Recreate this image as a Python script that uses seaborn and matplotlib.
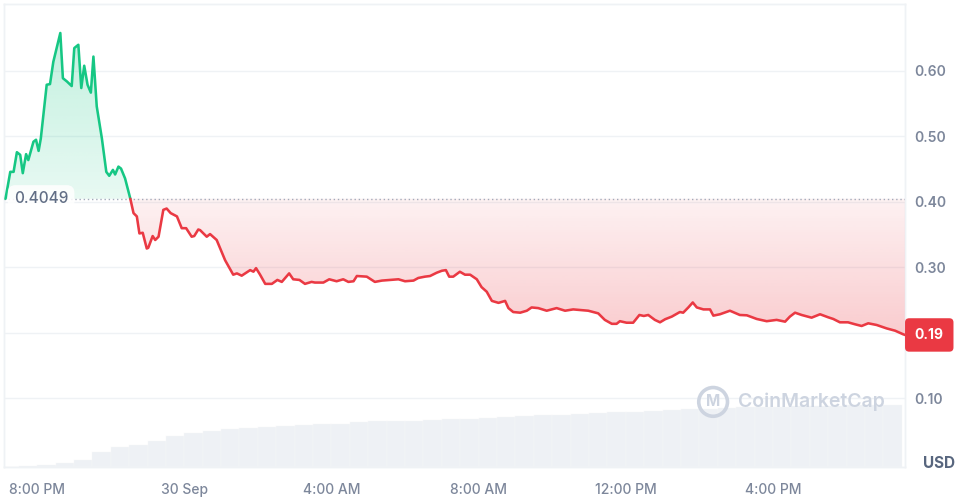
import numpy as np
import matplotlib
matplotlib.use("Agg")
import matplotlib.pyplot as plt
import matplotlib.colors as mcolors
import matplotlib.transforms as mtransforms
from matplotlib.path import Path
from matplotlib.patches import PathPatch
import seaborn as sns

# === Data ===
# hours relative to 8:00 PM on 29 Sep
hours = [
    -0.86, -0.73, -0.64, -0.55, -0.46, -0.39, -0.30, -0.24, -0.10, -0.03,
    0.04, 0.10, 0.26, 0.35, 0.44, 0.63, 0.70, 0.81, 0.94, 1.01,
    1.12, 1.20, 1.28, 1.37, 1.46, 1.53, 1.62, 1.76, 1.88, 1.96,
    2.06, 2.12, 2.21, 2.28, 2.39, 2.53, 2.62, 2.71, 2.78, 2.87,
    2.98, 3.02, 3.14, 3.21, 3.30, 3.43, 3.52, 3.63, 3.80, 3.93,
    4.05, 4.20, 4.27, 4.38, 4.43, 4.61, 4.70, 4.88, 5.11, 5.33,
    5.43, 5.56, 5.79, 5.88, 5.95, 6.06, 6.20, 6.38, 6.53, 6.65,
    6.85, 6.96, 7.13, 7.28, 7.46, 7.55, 7.78, 7.94, 8.14, 8.32,
    8.46, 8.60, 8.69, 8.96, 9.18, 9.37, 9.59, 9.82, 10.00, 10.23,
    10.36, 10.54, 10.68, 10.86, 11.00, 11.11, 11.20, 11.31, 11.49, 11.63,
    11.77, 11.95, 12.08, 12.22, 12.36, 12.54, 12.72, 12.81, 12.94, 13.13,
    13.31, 13.44, 13.62, 13.85, 14.12, 14.35, 14.57, 14.98, 15.25, 15.43,
    15.62, 15.75, 15.84, 16.02, 16.20, 16.37, 16.49, 16.61, 16.79, 16.93,
    17.07, 17.25, 17.47, 17.56, 17.70, 17.82, 17.93, 18.11, 18.29, 18.38,
    18.56, 18.83, 19.10, 19.29, 19.56, 19.83, 20.10, 20.33, 20.46, 20.60,
    20.78, 21.05, 21.28, 21.50, 21.64, 21.82, 22.04, 22.23, 22.41, 22.59,
    22.82, 23.09, 23.32, 23.54, 23.59,
]
price = [
    0.4049, 0.446, 0.446, 0.476, 0.472, 0.444, 0.473, 0.464, 0.492, 0.495,
    0.478, 0.497, 0.579, 0.580, 0.614, 0.658, 0.589, 0.584, 0.577, 0.635,
    0.640, 0.574, 0.608, 0.579, 0.567, 0.622, 0.546, 0.497, 0.446, 0.440,
    0.449, 0.442, 0.454, 0.451, 0.436, 0.4057, 0.383, 0.378, 0.352, 0.353,
    0.329, 0.330, 0.348, 0.342, 0.347, 0.388, 0.390, 0.383, 0.378, 0.360,
    0.360, 0.347, 0.348, 0.358, 0.357, 0.347, 0.351, 0.342, 0.311, 0.289,
    0.291, 0.2875, 0.296, 0.2936, 0.299, 0.289, 0.275, 0.275, 0.281, 0.278,
    0.291, 0.282, 0.281, 0.275, 0.278, 0.277, 0.277, 0.282, 0.279, 0.282,
    0.278, 0.279, 0.287, 0.286, 0.278, 0.280, 0.281, 0.282, 0.279, 0.280,
    0.284, 0.286, 0.287, 0.292, 0.295, 0.296, 0.286, 0.286, 0.2935, 0.289,
    0.289, 0.282, 0.270, 0.263, 0.249, 0.246, 0.249, 0.238, 0.232, 0.231,
    0.234, 0.239, 0.238, 0.234, 0.238, 0.234, 0.236, 0.234, 0.230, 0.220,
    0.214, 0.214, 0.218, 0.2157, 0.2157, 0.2275, 0.226, 0.2275, 0.220, 0.2163,
    0.221, 0.225, 0.232, 0.231, 0.239, 0.2466, 0.239, 0.236, 0.236, 0.2265,
    0.2286, 0.234, 0.2275, 0.227, 0.2214, 0.218, 0.220, 0.2173, 0.225, 0.231,
    0.2275, 0.2234, 0.2286, 0.224, 0.2214, 0.2163, 0.2163, 0.2133, 0.2107, 0.2148,
    0.2122, 0.207, 0.2035, 0.198, 0.197,
]
open_price = 0.4049
last_label = "0.19"

# volume bars, one per half hour (M USD)
volume = [
    0.0, 0.10, 0.20, 0.37, 0.70, 1.45, 2.00, 2.18, 2.58, 3.10,
    3.32, 3.52, 3.74, 3.88, 3.98, 4.10, 4.20, 4.23, 4.30, 4.50,
    4.53, 4.56, 4.61, 4.67, 4.75, 4.80, 4.85, 4.98, 5.07, 5.13,
    5.20, 5.28, 5.35, 5.43, 5.50, 5.58, 5.66, 5.75, 5.80, 5.87,
    5.92, 5.97, 6.01, 6.06, 6.08, 6.11, 6.14, 6.16, 6.20,
]
vol_hours = np.arange(len(volume)) * 0.5 - 0.75

tick_hours = [0, 4, 8, 12, 16, 20]
tick_labels = ["8:00 PM", "30 Sep", "4:00 AM", "8:00 AM", "12:00 PM", "4:00 PM"]
price_ticks = [0.1, 0.2, 0.3, 0.4, 0.5, 0.6]

GREEN = "#16c784"
RED = "#ea3943"
GRID = "#eff2f5"
LABEL = "#7d879b"
WATERMARK = "#cdd4e0"


def gradient_fill(ax, x, y, base, color, a_near, a_far):
    # vertical gradient between the line and the base, clipped to the area
    far = max(y) if max(y) > base else min(y)
    lo, hi = min(base, far), max(base, far)
    grad = np.zeros((256, 1, 4))
    grad[:, :, :3] = mcolors.to_rgb(color)
    alphas = np.linspace(a_near, a_far, 256)
    grad[:, 0, 3] = alphas if far > base else alphas[::-1]
    im = ax.imshow(grad, extent=(x[0], x[-1], lo, hi), origin="lower",
                   aspect="auto", interpolation="bilinear", zorder=1)
    verts = np.column_stack([np.r_[x, x[::-1]], np.r_[y, np.full(len(x), base)]])
    patch = PathPatch(Path(verts, closed=True), facecolor="none",
                      edgecolor="none", transform=ax.transData)
    ax.add_patch(patch)
    im.set_clip_path(patch)


# split at the crossing of the opening price
h = np.array(hours)
p = np.array(price)
i = int(np.argmax(p < open_price))
t = (p[i - 1] - open_price) / (p[i - 1] - p[i])
hx = h[i - 1] + t * (h[i] - h[i - 1])
green_h, green_p = np.r_[h[:i], hx], np.r_[p[:i], open_price]
red_h, red_p = np.r_[hx, h[i:]], np.r_[open_price, p[i:]]

sns.set_theme(style="white")
plt.rcParams["font.family"] = ["Inter", "DejaVu Sans"]

fig = plt.figure(figsize=(9.57, 4.98), dpi=100)
ax_vol = fig.add_axes([0.0042, 0.0629, 0.9415, 0.9291])
ax = ax_vol.twinx()

# volume
ax_vol.bar(vol_hours, volume, width=0.5, color="#eef1f5", edgecolor="#f6f7f9",
           linewidth=0.3, align="center")
ax_vol.set_ylim(0, max(volume) * 462.7 / 62)
ax_vol.set_yticks([])

# price fills + lines
gradient_fill(ax, green_h, green_p, open_price, GREEN, 0.10, 0.26)
gradient_fill(ax, red_h, red_p, open_price, RED, 0.07, 0.26)
sns.lineplot(x=green_h, y=green_p, color=GREEN, linewidth=1.85, ax=ax, zorder=4)
sns.lineplot(x=red_h, y=red_p, color=RED, linewidth=1.85, ax=ax, zorder=4)
ax.axhline(open_price, color="#a3abbb", linestyle=(0, (1, 2)), linewidth=1, zorder=3)

ax.set_xlim(-0.90, 23.59)
ax_vol.set_xlim(-0.90, 23.59)
ax.set_ylim(-0.0041, 0.7023)
ax.set_xlabel("")
ax.set_ylabel("")

ax.set_yticks(price_ticks)
ax.set_yticklabels(["" if v == 0.2 else f"{v:.2f}" for v in price_ticks])
ax.tick_params(axis="y", length=0, pad=6.5, labelsize=10, labelcolor=LABEL)
for lbl in ax.get_yticklabels():
    lbl.set_fontweight(600)
ax.grid(axis="y", color=GRID, linewidth=1)
ax.set_axisbelow(True)

ax_vol.set_xticks(tick_hours)
ax_vol.set_xticklabels(tick_labels)
ax_vol.tick_params(axis="x", length=0, pad=12, labelsize=10, labelcolor=LABEL)
for lbl in ax_vol.get_xticklabels():
    lbl.set_fontweight(500)

for a in (ax, ax_vol):
    for s in a.spines.values():
        s.set_color(GRID)
        s.set_linewidth(1)

# opening price label
trans = mtransforms.blended_transform_factory(ax.transAxes, ax.transData)
ax.text(0.011, open_price, f"{open_price:.4f}", transform=trans, ha="left",
        va="center", fontsize=11, fontweight=500, color="#616e85", zorder=6,
        bbox=dict(boxstyle="round,pad=0.4,rounding_size=0.5", fc="white",
                  ec="none", alpha=0.85))

# last price badge
ax.annotate(last_label, xy=(1, price[-1]), xycoords=("axes fraction", "data"),
            xytext=(7, 0), textcoords="offset points", ha="left", va="center",
            fontsize=10, fontweight="bold", color="white", zorder=10,
            annotation_clip=False,
            bbox=dict(boxstyle="round,pad=0.7,rounding_size=0.3", fc=RED, ec="none"))

# watermark
ax.text(0.978, 0.14, "CoinMarketCap", transform=ax.transAxes, ha="right",
        va="center", fontsize=14, fontweight=600, color=WATERMARK, zorder=2)
ax.text(0.787, 0.14, "M", transform=ax.transAxes, ha="center", va="center",
        fontsize=11, fontweight=700, color=WATERMARK, zorder=2,
        bbox=dict(boxstyle="circle,pad=0.45", fc="none", ec=WATERMARK, lw=2.6))

fig.text(939 / 957, 1 - 463.5 / 498, "USD", ha="center", va="center",
         fontsize=11, fontweight="bold", color="#58667e")

fig.savefig("out.png", dpi=100)
